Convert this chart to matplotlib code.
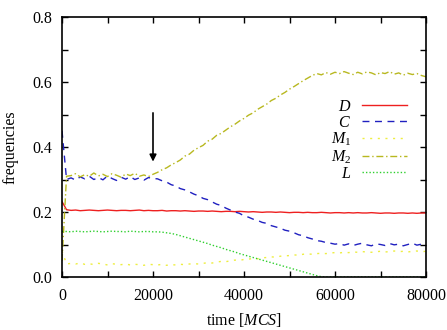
import numpy as np
import matplotlib
matplotlib.use("Agg")
import matplotlib.pyplot as plt

plt.rcParams['font.family'] = ['Liberation Serif', 'DejaVu Serif']
plt.rcParams['mathtext.fontset'] = 'custom'
plt.rcParams['mathtext.rm'] = 'Liberation Serif'
plt.rcParams['mathtext.it'] = 'Liberation Serif:italic'

# time axis in MCS, one sample every 1000 steps
t = np.arange(0, 80001, 1000)

D = [0.232, 0.207,
     0.205, 0.206, 0.204, 0.205, 0.206, 0.205, 0.204, 0.205, 0.206, 0.205,
     0.204, 0.205, 0.205, 0.204, 0.205, 0.206, 0.204, 0.205, 0.204,
     0.204, 0.205, 0.203, 0.204, 0.204, 0.203, 0.204, 0.203, 0.202, 0.203,
     0.203, 0.202, 0.203, 0.202, 0.201, 0.202, 0.202, 0.201, 0.202, 0.201,
     0.200, 0.201, 0.200, 0.199, 0.200, 0.200, 0.199, 0.200, 0.199, 0.198,
     0.199, 0.199, 0.198, 0.199, 0.198, 0.198, 0.199, 0.198, 0.197, 0.198,
     0.198, 0.197, 0.198, 0.197, 0.198, 0.197, 0.197, 0.198, 0.197, 0.196,
     0.197, 0.197, 0.196, 0.197, 0.197, 0.196, 0.197, 0.196, 0.197, 0.197]

C = [0.450, 0.300,
     0.305, 0.298, 0.308, 0.302, 0.310, 0.300, 0.306, 0.299, 0.311, 0.303,
     0.297, 0.307, 0.301, 0.309, 0.300, 0.305, 0.298, 0.306, 0.303,
     0.302, 0.296, 0.292, 0.284, 0.280, 0.272, 0.268, 0.262, 0.255, 0.250,
     0.242, 0.238, 0.231, 0.224, 0.220, 0.212, 0.206, 0.200, 0.196, 0.188,
     0.184, 0.178, 0.174, 0.168, 0.165, 0.158, 0.154, 0.150, 0.144, 0.141,
     0.136, 0.130, 0.127, 0.121, 0.117, 0.112, 0.110, 0.106, 0.104, 0.101,
     0.103, 0.098, 0.102, 0.097, 0.101, 0.104, 0.099, 0.096, 0.102, 0.100,
     0.097, 0.103, 0.099, 0.101, 0.096, 0.100, 0.104, 0.098, 0.101, 0.099]

M1 = [0.080, 0.040,
      0.042, 0.040, 0.043, 0.039, 0.041, 0.038, 0.042, 0.040, 0.037, 0.041,
      0.039, 0.038, 0.040, 0.037, 0.039, 0.038, 0.036, 0.039, 0.038,
      0.037, 0.039, 0.036, 0.038, 0.037, 0.039, 0.038, 0.040, 0.041, 0.040,
      0.042, 0.044, 0.043, 0.046, 0.048, 0.047, 0.050, 0.052, 0.051, 0.054,
      0.055, 0.057, 0.056, 0.059, 0.060, 0.062, 0.061, 0.064, 0.065, 0.066,
      0.068, 0.067, 0.070, 0.071, 0.070, 0.072, 0.073, 0.072, 0.074, 0.075,
      0.074, 0.076, 0.075, 0.077, 0.076, 0.078, 0.077, 0.076, 0.078, 0.079,
      0.077, 0.078, 0.080, 0.078, 0.079, 0.077, 0.079, 0.080, 0.078, 0.079]

M2 = [0.050, 0.310,
      0.312, 0.318, 0.308, 0.315, 0.310, 0.320, 0.311, 0.316, 0.309, 0.318,
      0.313, 0.307, 0.317, 0.312, 0.319, 0.310, 0.314, 0.309, 0.316,
      0.322, 0.330, 0.336, 0.345, 0.352, 0.360, 0.372, 0.378, 0.390, 0.398,
      0.405, 0.418, 0.424, 0.436, 0.442, 0.452, 0.462, 0.470, 0.480, 0.488,
      0.498, 0.505, 0.516, 0.524, 0.532, 0.543, 0.550, 0.560, 0.568, 0.578,
      0.586, 0.595, 0.604, 0.612, 0.620, 0.626, 0.622, 0.629, 0.624, 0.630,
      0.626, 0.632, 0.627, 0.623, 0.630, 0.625, 0.631, 0.628, 0.622, 0.629,
      0.626, 0.632, 0.624, 0.628, 0.621, 0.627, 0.623, 0.626, 0.620, 0.616]

L = [0.140,
     0.140, 0.139, 0.141, 0.140, 0.139, 0.140, 0.141, 0.140, 0.139, 0.140,
     0.141, 0.140, 0.140, 0.139, 0.141, 0.140, 0.139, 0.140, 0.140, 0.139,
     0.139, 0.138, 0.136, 0.134, 0.131, 0.127, 0.123, 0.119, 0.115, 0.111,
     0.107, 0.103, 0.098, 0.094, 0.090, 0.085, 0.081, 0.077, 0.072, 0.068,
     0.064, 0.060, 0.056, 0.052, 0.048, 0.044, 0.040, 0.036, 0.032, 0.028,
     0.024, 0.020, 0.016, 0.012, 0.008, 0.004, 0.001, 0.0, 0.0, 0.0,
     0.0, 0.0, 0.0, 0.0, 0.0, 0.0, 0.0, 0.0, 0.0, 0.0,
     0.0, 0.0, 0.0, 0.0, 0.0, 0.0, 0.0, 0.0, 0.0, 0.0]

xticks = [0, 10000, 20000, 30000, 40000, 50000, 60000, 70000, 80000]
xticklabels = ['0', '', '20000', '', '40000', '', '60000', '', '80000']
yticks = [0.0, 0.1, 0.2, 0.3, 0.4, 0.5, 0.6, 0.7, 0.8]
yticklabels = ['0.0', '', '0.2', '', '0.4', '', '0.6', '', '0.8']

arrow_t = 20000
arrow_from = 0.505
arrow_to = 0.355

fs = 11.5

fig = plt.figure(figsize=(4.47, 3.30), dpi=100)
ax = fig.add_axes([62/447, 1 - 277/330, 364/447, 260/330])

ax.plot(t, D, color='#ee2020', lw=1.0, label='$D$')
ax.plot(t, C, color='#2020c0', lw=1.0, ls=(0, (5, 4)), label='$C$')
ax.plot(t, M1, color='#eeee40', lw=1.0, ls=(0, (1.5, 4)), label='$M_1$')
ax.plot(t, M2, color='#b8b820', lw=1.0, ls=(0, (5, 2, 1, 2)), label='$M_2$')
ax.plot(t, L, color='#30d030', lw=1.0, ls=(0, (1, 1.5)), label='$L$')

ax.annotate('', xy=(arrow_t, arrow_to), xytext=(arrow_t, arrow_from),
            arrowprops=dict(arrowstyle='-|>', color='black', lw=1.2,
                            mutation_scale=10, shrinkA=0, shrinkB=0))

ax.set_xlim(0, 80000)
ax.set_ylim(0, 0.8)
ax.set_xticks(xticks)
ax.set_xticklabels(xticklabels)
ax.set_yticks(yticks)
ax.set_yticklabels(yticklabels)
ax.tick_params(direction='in', top=True, right=True, length=4, width=1,
               labelsize=fs)
ax.tick_params(axis='x', pad=8)
ax.tick_params(axis='y', pad=7)
for s in ax.spines.values():
    s.set_linewidth(1.2)

ax.set_xlabel('time [$MCS$]', fontsize=fs, labelpad=5)
ax.set_ylabel('frequencies', fontsize=fs, labelpad=10)

ax.legend(loc='upper right', bbox_to_anchor=(407/447, 1 - 99/330),
          bbox_transform=fig.transFigure, frameon=False, markerfirst=False,
          handlelength=2.8, handletextpad=0.7, labelspacing=0.0,
          borderpad=0, borderaxespad=0, fontsize=fs)

fig.savefig('out.png', dpi=100)
